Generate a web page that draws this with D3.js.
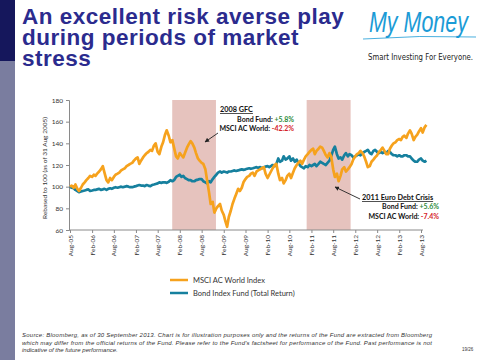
<!DOCTYPE html>
<html><head><meta charset="utf-8">
<script src="https://cdn.jsdelivr.net/npm/d3@7"></script>
<style>body{margin:0;background:#fff}svg{display:block}</style>
</head><body>
<svg id="c" width="480" height="360"></svg>
<script>
// ---------- data ----------
const titleLines = ["An excellent risk averse play", "during periods of market", "stress"];
const tickLabels = ["Aug-05","Feb-06","Aug-06","Feb-07","Aug-07","Feb-08","Aug-08","Feb-09","Aug-09",
                    "Feb-10","Aug-10","Feb-11","Aug-11","Feb-12","Aug-12","Feb-13","Aug-13"];
const yTicks = [60, 80, 100, 120, 140, 160, 180];
const seriesNames = ["MSCI AC World Index", "Bond Index Fund (Total Return)"];
// semi-monthly readings (1st and 15th of each month), Aug 2005 - Sep 2013
const msci = [
  100,101, 99,102, 98,96, 99,102, 104,106,                                              // 2005
  108,110, 109,111, 110,112, 114,116, 119,113, 106,104, 108,106, 109,111, 112,113, 115,116, 117,119, 120,121, // 2006
  122,124, 126,127, 121,124, 127,129, 131,132, 134,133, 138,140, 132,130, 137,141, 148,152, 147,141, 143,136, // 2007
  128,126, 131,129, 127,131, 136,139, 142,140, 136,131, 126,124, 122,121, 116,106, 95,84, 86,76, 80,82,       // 2008
  84,78, 74,68, 63,72, 78,84, 89,93, 98,96, 99,104, 107,109, 110,112, 113,110, 114,115, 116,117,             // 2009
  118,112, 108,111, 114,117, 120,121, 112,106, 108,103, 106,110, 112,108, 113,117, 120,122, 124,121, 125,128, // 2010
  130,132, 134,135, 130,133, 135,137, 136,133, 129,127, 131,128, 116,109, 112,105, 110,116, 118,114, 116,118, // 2011
  121,125, 128,130, 131,133, 131,128, 123,118, 119,123, 125,127, 129,132, 134,136, 133,130, 130,135, 138,140, // 2012
  141,143, 144,143, 146,147, 145,149, 152,149, 143,146, 148,151, 154,150, 155,157                            // 2013
];
const bond = [
  100,99, 98.5,97, 96,95, 95.5,96, 96.5,97,                                                                  // 2005
  97.5,96, 96.5,97, 97,97.5, 98,97, 97.5,98, 97,98, 98.5,98, 99,99.5, 99,99.5, 100,99.5, 100,100.5, 100,99.5, // 2006
  99.5,100, 100.5,101, 101.5,101, 101,100.5, 101.5,101, 100.5,101.5, 102,102.5, 103,104, 103.5,104, 104,103.5, 104.5,106, 105,106, // 2007
  109,110, 111,109, 110,108, 107,106, 106,105, 105,106, 106.5,107, 107,105, 104,103, 105,104, 107,109, 111,113, // 2008
  114,113, 114,113.5, 113,114, 114,114.5, 115,114.5, 115,115.5, 116,115.5, 116,116.5, 117,116.5, 117,117.5, 118,117.5, 118,117, // 2009
  118,118.5, 119,118, 119,120, 119,121, 126,123, 124,128, 125,126, 128,124, 126,123, 125,122, 119,118, 117,119, // 2010
  118,120, 119,120, 121,119, 121,123, 122,121, 120,122, 124,128, 134,137, 130,126, 127,125, 129,131, 128,130, // 2011
  129,127, 128,129, 130,129, 131,132, 133,134, 131,130, 133,134, 132,131, 132,131, 132,131, 133,132, 130,129, // 2012
  129,128, 129,128, 128,129, 129,128, 128,126, 124,123, 123,125, 126,124, 123,124                            // 2013
];
const crisisNames = ["2008 GFC", "2011 Euro Debt Crisis"];
const crisisStart = ["2007-11-30", "2010-12-23"];
const crisisEnd = ["2008-11-28", "2011-12-24"];
const bondChange = ["+5.8%", "+5.6%"];
const msciChange = ["-42.2%", "-7.4%"];
const footnote = [
  "Source: Bloomberg, as of 30 September 2013. Chart is for illustration purposes only and the returns of the Fund are extracted from Bloomberg",
  "which may differ from the official returns of the Fund. Please refer to the Fund's factsheet for performance of the Fund. Past performance is not",
  "indicative of the future performance."
];
const pageLabel = "19/26";

// ---------- drawing ----------
const svg = d3.select("#c");
const colors = ["#f6a21d", "#16809e"];
const parseTick = d3.timeParse("%b-%y");
const parseDay = d3.timeParse("%Y-%m-%d");
const dateOf = i => new Date(2005, 7 + Math.floor(i / 2), i % 2 ? 15 : 1);

// left sidebar
svg.append("rect").attr("x", 0).attr("y", 0).attr("width", 15).attr("height", 61).attr("fill", "#15175c");
svg.append("rect").attr("x", 0).attr("y", 61).attr("width", 15).attr("height", 299).attr("fill", "#7a7d9f");

// title
svg.append("g").selectAll("text").data(titleLines).join("text")
  .attr("x", 22).attr("y", (d, i) => 24 + i * 21.2)
  .attr("font-family", "Liberation Sans, Arial, sans-serif").attr("font-weight", "bold")
  .attr("font-size", 22.5).attr("letter-spacing", 0.5).attr("fill", "#2b2b8e").text(d => d);

// logo
svg.append("text").attr("transform", "translate(369,32) scale(0.74,1)")
  .attr("font-family", "Liberation Sans, sans-serif").attr("font-style", "italic")
  .attr("font-size", 29).attr("fill", "#1b9bd6").text("My Money");
svg.append("path").attr("d", "M363,39 Q420,35 476,37").attr("fill", "none")
  .attr("stroke", "#1b9bd6").attr("stroke-width", 0.8);
svg.append("text").attr("x", 368).attr("y", 60)
  .attr("font-family", "DejaVu Sans Condensed, Liberation Sans, sans-serif")
  .attr("font-size", 8).attr("fill", "#222")
  .attr("textLength", 105).attr("lengthAdjust", "spacingAndGlyphs").text("Smart Investing For Everyone.");

// scales
const x = d3.scaleTime().domain([parseTick(tickLabels[0]), parseTick(tickLabels[tickLabels.length - 1])]).range([70, 421]);
const y = d3.scaleLinear().domain([60, 180]).range([230, 100]);

// crisis shading
svg.append("g").selectAll("rect").data(crisisNames).join("rect")
  .attr("x", (d, i) => x(parseDay(crisisStart[i])))
  .attr("width", (d, i) => x(parseDay(crisisEnd[i])) - x(parseDay(crisisStart[i])))
  .attr("y", y(180)).attr("height", y(60) - y(180)).attr("fill", "#e6c3be");

// axes
const axFont = "Lato, Open Sans, sans-serif";
const yAxis = svg.append("g").attr("transform", "translate(69,0)")
  .call(d3.axisLeft(y).tickValues(yTicks).tickSize(3).tickPadding(3));
const xAxis = svg.append("g").attr("transform", "translate(0,230)")
  .call(d3.axisBottom(x).tickValues(tickLabels.map(parseTick)).tickSize(3)
    .tickFormat((d, i) => tickLabels[i]));
[yAxis, xAxis].forEach(a => {
  a.selectAll("path,line").attr("stroke", "#8a8a8a");
  a.selectAll("text").attr("font-family", axFont).attr("font-size", 6.5).attr("fill", "#333");
});
xAxis.select(".domain").attr("d", "M69,0H423");
xAxis.selectAll("text").attr("transform", "rotate(-90)").attr("text-anchor", "end")
  .attr("x", -5).attr("y", 0).attr("dy", "0.32em");
svg.append("text").attr("transform", "translate(47,168) rotate(-90)").attr("text-anchor", "middle")
  .attr("font-family", axFont).attr("font-size", 6.5).attr("fill", "#333")
  .text("Rebased to 100 (as of 31 Aug 2005)");

// lines: bond first, MSCI on top
const line = d3.line().x((d, i) => x(dateOf(i))).y(d => y(d));
[[bond, colors[1]], [msci, colors[0]]].forEach(([s, c]) => {
  svg.append("path").datum(s).attr("d", line).attr("fill", "none")
    .attr("stroke", c).attr("stroke-width", 2.7).attr("stroke-linejoin", "round");
});

// annotations
svg.append("defs").append("marker").attr("id", "ah").attr("viewBox", "0 0 10 10")
  .attr("refX", 9).attr("refY", 5).attr("markerWidth", 5).attr("markerHeight", 5).attr("orient", "auto")
  .append("path").attr("d", "M0,0L10,5L0,10z").attr("fill", "#222");
const annFont = "Lato, Open Sans, sans-serif";
const ann = [
  {tx: 220, ty: 112, ex: 294, b1: 121.5, b2: 130.5, ax1: 218, ay1: 133, ax2: 205, ay2: 142},
  {tx: 362, ty: 200, ex: 439, b1: 209, b2: 218.5, ax1: 360, ay1: 199, ax2: 335, ay2: 187}
];
ann.forEach((a, i) => {
  svg.append("text").attr("x", a.tx).attr("y", a.ty).attr("font-family", annFont)
    .attr("font-weight", "bold").attr("font-size", 7.3).attr("fill", "#111")
    .attr("text-decoration", "underline").text(crisisNames[i]);
  const t1 = svg.append("text").attr("x", a.ex).attr("y", a.b1).attr("text-anchor", "end")
    .attr("font-family", annFont).attr("font-size", 7).attr("font-weight", "bold").attr("fill", "#111");
  t1.append("tspan").text("Bond Fund: ");
  t1.append("tspan").attr("fill", "#2e8b3a").text(bondChange[i]);
  const t2 = svg.append("text").attr("x", a.ex).attr("y", a.b2).attr("text-anchor", "end")
    .attr("font-family", annFont).attr("font-size", 7).attr("font-weight", "bold").attr("fill", "#111");
  t2.append("tspan").text("MSCI AC World: ");
  t2.append("tspan").attr("fill", "#d5232b").text(msciChange[i]);
  svg.append("line").attr("x1", a.ax1).attr("y1", a.ay1).attr("x2", a.ax2).attr("y2", a.ay2)
    .attr("stroke", "#222").attr("stroke-width", 0.9).attr("marker-end", "url(#ah)");
});

// legend
const lg = svg.append("g").selectAll("g").data(seriesNames).join("g")
  .attr("transform", (d, i) => `translate(170,${280 + i * 13})`);
lg.append("line").attr("x1", 0).attr("x2", 18).attr("stroke", (d, i) => colors[i]).attr("stroke-width", 2.5);
lg.append("text").attr("x", 23).attr("y", 2.6).attr("font-family", annFont).attr("font-size", 7.5)
  .attr("fill", "#333").text(d => d);

// footnote
svg.append("g").selectAll("text").data(footnote).join("text")
  .attr("x", 22).attr("y", (d, i) => 337 + i * 7.5)
  .attr("font-family", "Liberation Sans, Arial, sans-serif").attr("font-style", "italic")
  .attr("font-size", 6).attr("fill", "#333")
  .each(function (d, i) { if (i < 2) d3.select(this).attr("textLength", 410).attr("lengthAdjust", "spacing"); })
  .text(d => d);
svg.append("text").attr("x", 462).attr("y", 351).attr("font-family", "Liberation Sans, Arial, sans-serif")
  .attr("font-size", 4.5).attr("fill", "#333").text(pageLabel);
</script>
</body></html>
